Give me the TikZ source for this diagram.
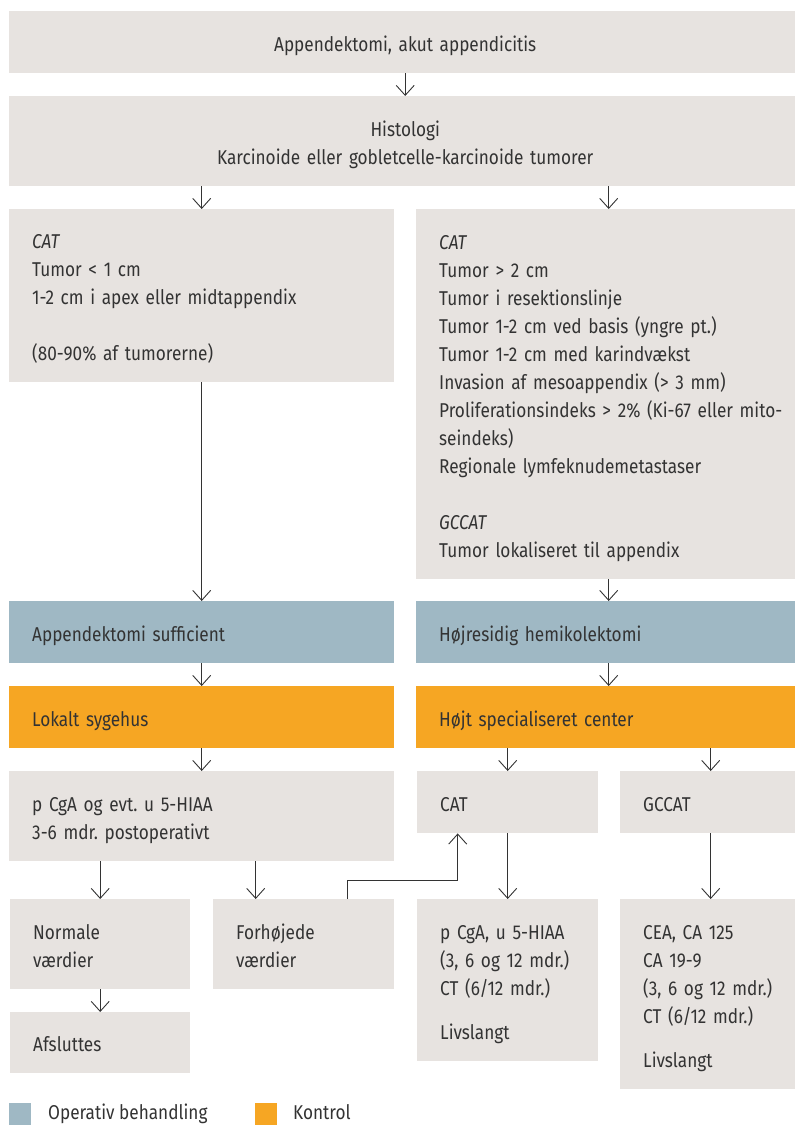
\documentclass[tikz,border=0pt]{standalone}
\usepackage{fontspec}
\setmainfont{Fira Sans}[FakeStretch=0.86]
\usetikzlibrary{arrows.meta}
\definecolor{boxgrey}{HTML}{E7E3E0}
\definecolor{opblue}{HTML}{9FB8C4}
\definecolor{ctrlorange}{HTML}{F6A623}
\definecolor{inkgrey}{HTML}{333333}
\newcommand{\linestrut}{\rule[-5pt]{0pt}{28pt}}
\frenchspacing

\begin{document}
\begin{tikzpicture}[
        greybox/.style={rectangle, fill=boxgrey, text=inkgrey, inner xsep=23pt, inner ysep=0pt, anchor=north west, align=left, font=\fontsize{20}{28}\selectfont, execute at begin node=\linestrut, execute at end node=\linestrut},
        centerbox/.style={greybox, align=center},
        bluebox/.style={greybox, fill=opblue},
        orangebox/.style={greybox, fill=ctrlorange},
        legendkey/.style={rectangle, minimum size=22pt, inner sep=0pt, anchor=north west},
        legendtext/.style={anchor=base west, inner sep=0pt, text=inkgrey, font=\fontsize{20}{28}\selectfont},
        arrow/.style={draw=inkgrey, line width=0.9pt, -{Straight Barb[length=10pt, width=18pt, line width=0.9pt]}},
        x=1pt, y=-1pt,
    ]
    \useasboundingbox (0,0) rectangle (795,1125);
    \node[centerbox, text width=746pt, minimum height=62pt] (0) at (9,11) {Appendektomi, akut appendicitis};
    \node[centerbox, text width=746pt, minimum height=90pt] (1) at (9,96) {Histologi\\Karcinoide eller gobletcelle-karcinoide tumorer};
    \node[greybox, text width=339pt, minimum height=173pt] (2) at (9,209) {\textit{CAT}\\Tumor < 1 cm\\1-2 cm i apex eller midtappendix\\[28pt](80-90\% af tumorerne)};
    \node[greybox, text width=339pt, minimum height=370pt] (3) at (416,209) {\textit{CAT}\\Tumor > 2 cm\\Tumor i resektionslinje\\Tumor 1-2 cm ved basis (yngre pt.)\\Tumor 1-2 cm med karindvækst\\Invasion af mesoappendix (> 3 mm)\\\mbox{Proliferationsindeks > 2\% (Ki-67 eller mito-}\\seindeks)\\Regionale lymfeknudemetastaser\\[28pt]\textit{GCCAT}\\Tumor lokaliseret til appendix};
    \node[bluebox, text width=339pt, minimum height=62pt] (4) at (9,601) {Appendektomi sufficient};
    \node[bluebox, text width=339pt, minimum height=62pt] (5) at (416,601) {Højresidig hemikolektomi};
    \node[orangebox, text width=339pt, minimum height=62pt] (6) at (9,686) {Lokalt sygehus};
    \node[orangebox, text width=339pt, minimum height=62pt] (7) at (416,686) {Højt specialiseret center};
    \node[greybox, text width=339pt, minimum height=90pt] (8) at (9,771) {p CgA og evt. u 5-HIAA\\3-6 mdr. postoperativt};
    \node[greybox, text width=135pt, minimum height=62pt] (9) at (417,771) {CAT};
    \node[greybox, text width=135pt, minimum height=62pt] (10) at (620,771) {GCCAT};
    \node[greybox, text width=134pt, minimum height=90pt] (11) at (10,899) {Normale\\værdier};
    \node[greybox, text width=135pt, minimum height=90pt] (12) at (213,899) {Forhøjede\\værdier};
    \node[greybox, text width=134pt, minimum height=61pt] (13) at (10,1012) {Afsluttes};
    \node[greybox, text width=135pt, minimum height=162pt] (14) at (417,899) {p CgA, u 5-HIAA\\(3, 6 og 12 mdr.)\\CT (6/12 mdr.)\\[16pt]Livslangt};
    \node[greybox, text width=135pt, minimum height=190pt] (15) at (620,899) {CEA, CA 125\\CA 19-9\\(3, 6 og 12 mdr.)\\CT (6/12 mdr.)\\[16pt]Livslangt};
    % legend
    \node[legendkey, fill=opblue] (16) at (9,1103) {};
    \node[legendtext] (17) at (48,1119) {Operativ behandling};
    \node[legendkey, fill=ctrlorange] (18) at (255,1103) {};
    \node[legendtext] (19) at (293,1119) {Kontrol};
    \coordinate (f) at ([xshift=-48pt]12.north);
    \coordinate (g) at ([xshift=44pt]12.north);
    \coordinate (h) at ([xshift=-50pt]9.south);
    \draw [arrow] (0) -- (1);
    \draw [arrow] (1.south -| 2) -- (2);
    \draw [arrow] (1.south -| 3) -- (3);
    \draw [arrow] (2) -- (4);
    \draw [arrow] (3) -- (5);
    \draw [arrow] (4) -- (6);
    \draw [arrow] (5) -- (7);
    \draw [arrow] (6) -- (8);
    \draw [arrow] (7.south -| 9) -- (9);
    \draw [arrow] (7.south -| 10) -- (10);
    \draw [arrow] (8.south -| 11) -- (11);
    \draw [arrow] (8.south -| f) -- (f);
    \draw [arrow] (11) -- (13);
    \draw [arrow] (9) -- (14);
    \draw [arrow] (10) -- (15);
    \draw [arrow] (g) -- ++(0,-19) -| (h);
\end{tikzpicture}
\end{document}
